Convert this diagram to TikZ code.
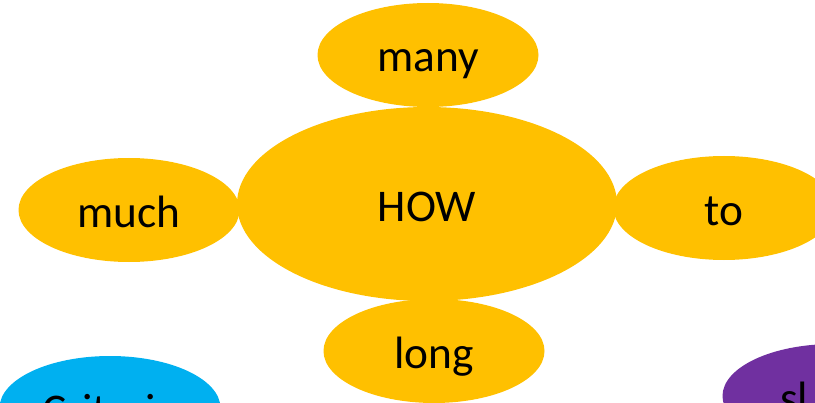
\documentclass[tikz,border=0pt]{standalone}
\usepackage{fontspec}
\setmainfont{Carlito}
\usetikzlibrary{shapes.geometric}
\definecolor{gold}{HTML}{FFC000}
\definecolor{skyblue}{HTML}{00B0F0}
\definecolor{plum}{HTML}{7030A0}
\tikzset{
    bubble/.style={ellipse, fill=gold, inner sep=0pt,
        text height=25.5pt, text depth=0pt,
        font=\fontsize{34}{34}\selectfont},
    small/.style={bubble, minimum width=165.75pt, minimum height=78pt},
}

\begin{document}
\begin{tikzpicture}[x=0.75pt,y=-0.75pt]
    \useasboundingbox (0,0) rectangle (815,403);
    \clip (0,0) rectangle (815,403);
    % petals round the centre
    \node[small] (many) at (428,55)  {many};
    \node[small] (long) at (434,351) {long};
    \node[small] (much) at (129,210) {much};
    \node[small] (to)   at (724,208) {to};
    \node[bubble, minimum width=285pt, minimum height=145.5pt] (how) at (427,204) {HOW};
    % cut off at the bottom edge
    \node[small, fill=skyblue] (criteria) at (110,408) {Criteria};
    \node[small, fill=plum] (sl) at (833,396) {};
    \node[inner sep=0pt, anchor=base west, font=\fontsize{34}{34}\selectfont] (sltext) at (780,413) {sl};
\end{tikzpicture}
\end{document}
